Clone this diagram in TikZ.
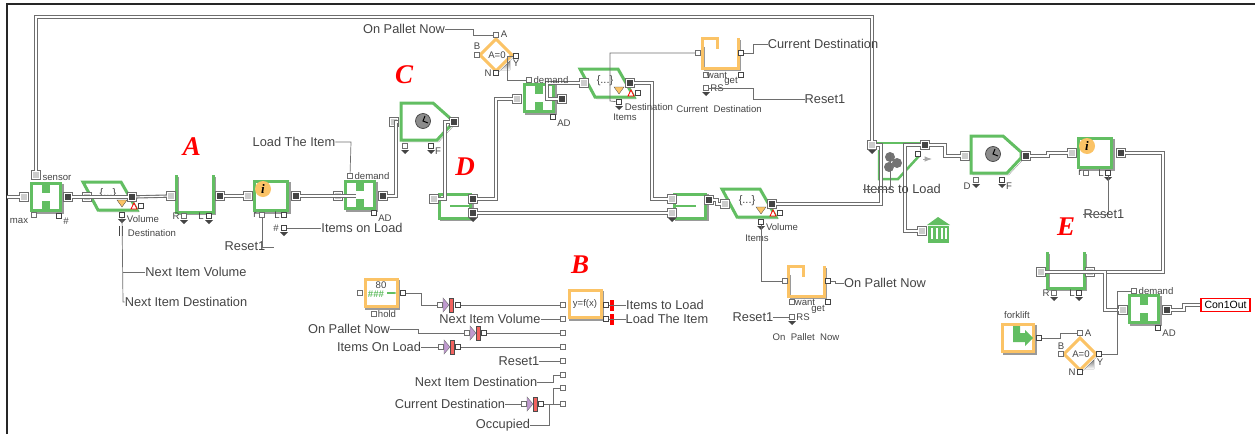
\documentclass[tikz,border=0pt]{standalone}
\usepackage{fontspec}
\setmainfont{Liberation Sans}
\newfontfamily\markfont{Liberation Serif}
\usetikzlibrary{arrows.meta,positioning,calc,shapes.geometric}
\definecolor{grn}{HTML}{62BE62}
\definecolor{org}{HTML}{FBC366}
\definecolor{ink}{HTML}{444444}
\definecolor{wire}{HTML}{6E6E6E}
\definecolor{shade}{HTML}{9A9A9A}
\definecolor{purp}{HTML}{C09AD0}
\definecolor{gatered}{HTML}{F2635F}
\newcommand{\labfont}{\fontsize{12.8}{13}\selectfont}
\newcommand{\tagfont}{\fontsize{9.6}{10}\selectfont}
\begin{document}
\begin{tikzpicture}[x=1pt,y=-1pt,>=Latex,
  grnbox/.style={draw=grn,fill=white,line width=3pt,preaction={draw=shade,transform canvas={shift={(1.8pt,-1.8pt)}}}},
  orgbox/.style={draw=org,fill=white,line width=3pt,preaction={draw=shade,transform canvas={shift={(1.8pt,-1.8pt)}}}},
  grnopen/.style={draw=grn,line width=3pt,preaction={draw=shade,transform canvas={shift={(1.8pt,-1.8pt)}}}},
  orgopen/.style={draw=org,line width=3pt,preaction={draw=shade,transform canvas={shift={(1.8pt,-1.8pt)}}}},
  item/.style={draw=wire,double=white,double distance=1.1pt,line width=1.1pt},
  val/.style={draw=wire,line width=.7pt},
  inport/.style={rectangle,draw=wire,double=white,double distance=.8pt,line width=.7pt,fill=black!20,minimum size=7.5pt,inner sep=0pt},
  outport/.style={rectangle,draw=wire,double=white,double distance=.8pt,line width=.7pt,fill=ink,minimum size=7.5pt,inner sep=0pt},
  vin/.style={rectangle,draw=wire,fill=white,line width=.7pt,minimum size=5.5pt,inner sep=0pt},
  vout/.style={rectangle,draw=ink,fill=white,line width=1.6pt,minimum size=5pt,inner sep=0pt},
  lab/.style={font=\labfont,color=ink,inner sep=0pt},
  tag/.style={font=\tagfont,color=ink,inner sep=0pt},
  letter/.style={font=\fontsize{27}{27}\selectfont\markfont\bfseries\itshape,color=red,inner sep=0pt}]
  % window frame
  \useasboundingbox (0,0) rectangle (1255,434);
  \draw[black!85,line width=1.4pt] (7,434) -- (7,4) -- (1255,4);

  % H blocks
  \foreach \n/\x/\y in {h1/46/197,h2/360/195,h3/539/98,h4/1144/309}{
    \node[grnbox,minimum width=29pt,minimum height=27pt] (\n) at (\x,\y) {};
    \fill[grn] (\x-4,\y-13) rectangle ++(8,9);
    \fill[grn] (\x-4,\y+4) rectangle ++(8,9);
  }
  % selectors
  \foreach \n/\x/\y in {s1/83/182,s2/580/69,s3/722/189}{
    \draw[grnbox] (\x,\y) -- ++(38,0) -- ++(16,28) -- ++(-39,0) -- cycle;
    \node[tag,font=\fontsize{11}{11}\selectfont] at (\x+25,\y+12) {\{...\}};
    \fill[org,draw=ink,line width=.3pt] (\x+34,\y+18) -- ++(10,0) -- ++(-5,7) -- cycle;
    \draw[red,line width=.7pt,fill=white] (\x+48,\y+27) -- ++(6,0) -- ++(-3,-6) -- cycle;
    \node[vout] (\n r) at (\x+58,\y+24) {};
    \node[vout] (\n b) at (\x+39,\y+33) {};
    \fill[ink] (\x+35,\y+37) -- ++(8,0) -- ++(-4,4) -- cycle;
  }
  % clock blocks
  \foreach \n/\x/\y in {c1/401/103,c2/971/136}{
    \draw[grnbox] (\x,\y) -- ++(32,0) -- ++(18,16) -- ++(0,6) -- ++(-14,15) -- ++(-36,0) -- cycle;
    \node[circle,draw=ink,fill=black!45,line width=.7pt,minimum size=15pt,inner sep=0pt] (\n k) at (\x+22,\y+18) {};
    \draw[black,line width=1pt] (\x+24,\y+13) -- (\n k.center) -- (\x+27,\y+20);
  }
  % queues
  \draw[grnopen] (176,175) -- (176,212) -- (213,212) -- (213,175);
  \draw[grnopen] (1047,252) -- (1047,288) -- (1084,288) -- (1084,252);
  \foreach \x/\y in {702/38,788/266}{
    \draw[orgopen] (\x,\y+7) -- (\x,\y+30) -- (\x+36,\y+30) -- (\x+36,\y);
    \draw[org,line width=3pt] (\x,\y+7) -- (\x,\y) -- (\x+15,\y) -- (\x+15,\y+11);
  }
  % info blocks
  \foreach \n/\x/\y in {i1/271/196,i2/1095/153}{
    \node[grnbox,minimum width=33pt,minimum height=29pt] (\n) at (\x,\y) {};
    \node[circle,fill=org,minimum size=16pt,inner sep=0pt,font=\fontsize{13}{13}\selectfont\markfont\bfseries\itshape] (\n c) at (\x-8,\y-7) {i};
  }
  % combine blocks
  \foreach \n/\x in {d1/455,d2/690}{
    \node[grnbox,minimum width=31pt,minimum height=24pt] (\n) at (\x,206) {};
  }
  \draw[grn,line width=2.5pt] (450,206) -- (471,206);
  \draw[grn,line width=2.5pt] (675,206) -- (696,206);
  % decisions
  \foreach \n/\x/\y in {q1/496/55,q2/1080/354}{
    \draw[orgbox] (\x,\y-16) -- (\x+16,\y) -- (\x,\y+16) -- (\x-16,\y) -- cycle;
    \fill[shade] (\x+14,\y+6) -- (\x+5,\y+15) -- (\x+14,\y+15) -- cycle;
    \node[tag] (\n t) at (\x+1,\y) {A=0};
  }
  % exit block and its icons
  \draw[grn,line width=2.5pt] (877,143) -- (922,143);
  \draw[grn,line width=2.5pt] (879,150) -- (879,179) -- (898,179) -- (919,156);
  \foreach \x/\y in {890/157,897/163,889/167}{
    \fill[black!55] (\x,\y) circle (5);
  }
  \draw[-Latex,black!35,line width=1pt] (923,159) -- (932,159);
  \fill[grn] (927,225) -- (938,217) -- (950,225) -- cycle;
  \fill[grn] (928,226) rectangle (949,243);
  \foreach \x in {931,936,941,945}{
    \fill[white] (\x,228) rectangle ++(2,11);
  }
  % delay, function and source blocks
  \node[orgbox,minimum width=32pt,minimum height=27pt] (hd) at (381,293) {};
  \node[tag] (hdn) at (381,285) {80};
  \node[tag,color=grn,font=\tagfont\bfseries] (hdv) at (376,294) {\#\#\#};
  \draw[-{Latex[length=3pt]},grn,line width=1.6pt] (387,293) -- (397,293);
  \node[orgbox,minimum width=32pt,minimum height=27pt] (fx) at (585,304) {};
  \node[tag] (fxt) at (585,304) {y=f(x)};
  \node[orgbox,minimum width=31pt,minimum height=27pt] (fk) at (1018,338) {};
  \fill[grn] (1013,326) -- (1020,326) -- (1020,333) -- (1025,333) -- (1025,330) -- (1033,338) -- (1025,346) -- (1025,342) -- (1013,342) -- cycle;
  \node[tag] (fkt) at (1017,315) {forklift};
  \node[draw=red,fill=white,line width=1.5pt,minimum width=49pt,minimum height=13pt,inner sep=0pt,font=\fontsize{10.5}{11}\selectfont] (con) at (1225.5,305) {Con1Out};

  % item ports
  \foreach \n/\x/\y in {h1i/24/197,sens/36/175,s1i/87/197,qai/171/196,i1i/248/196,h2i/338/196,c1i/394/122,d1i/434/199,h3i/517/99,s2i/584/83,d2a/672/199,d2b/672/213,s3i/725/204,exi/872/145,bki/922/231,c2i/965/156,i2i/1072/153,qei/1041/272,qeo/1090/272,h4i/1123/310}{
    \node[inport] (\n) at (\x,\y) {};
  }
  \foreach \n/\x/\y in {h1o/68/197,s1o/132/197,qao/220/196,i1o/296/196,h2o/383/196,c1o/454/122,d1a/473/199,d1b/473/213,h3o/562/99,s2o/630/83,d2o/709/200,s3o/772/204,exo/925/145,c2o/1026/156,i2o/1121/153,h4o/1167/310}{
    \node[outport] (\n) at (\x,\y) {};
  }
  % value ports
  \foreach \n/\x/\y in {h1m/34/215,qar/184/216,i1r/262/215,h2d/350/176,c1d/405/146,hdi/360/293,hdh/374/314,q1a/496/35,q1b/477/55,h3d/529/80,qtw/706/75,qti/698/53,qts/706/88,qbi/785/281,qbw/792/302,qbs/792/317,c2d/976/180,i2r/1086/173,qer/1054/293,h4d/1134/291,q2a/1080/333,q2b/1061/354,x1/563/305,x2/563/319,x3/563/333,x4/563/347,x5/563/361,x6/563/375,x7/563/388,x8/563/404,g1i/440/305,g2i/467/333,g3i/441/347,g4i/524/404}{
    \node[vin] (\n) at (\x,\y) {};
  }
  \foreach \n/\x/\y in {h1c/59/216,qal/209/216,i1l/284/215,i1n/284/228,h2a/374/213,c1f/431/146,hdo/403/293,q1y/516/56,q1n/496/73,h3a/553/117,qto/741/53,qtg/741/75,qbo/828/281,qbg/828/302,exv/918/154,c2f/1002/180,i2l/1108/173,qel/1079/293,h4a/1158/328,fko/1039/338,q2y/1099/354,q2n/1080/372,fxa/606/305,fxb/606/319,g1o/458/305,g2o/484/333,g3o/458/347,g4o/541/404}{
    \node[vout] (\n) at (\x,\y) {};
  }
  % small down arrows
  \foreach \x/\y in {184/220,209/220,284/232,405/150,431/150,473/218,672/218,706/92,792/321,872/150,976/184,1002/184,1108/177,1054/297,1079/297}{
    \fill[ink] (\x-4,\y) -- (\x+4,\y) -- (\x,\y+4) -- cycle;
  }
  \draw[ink,line width=.9pt] (119,226) -- (119,236) (122,226) -- (122,236);

  % gates
  \foreach \n/\x/\y in {g1/449/305,g2/476/333,g3/450/347,g4/533/404}{
    \fill[purp,draw=wire,line width=.4pt] (\x-6,\y-7) -- (\x,\y) -- (\x-6,\y+7) -- cycle;
    \fill[gatered,draw=black!70,line width=.4pt] (\x,\y-7) rectangle ++(4.5,14);
  }
  \fill[red] (610,300) rectangle ++(4,11);
  \fill[red] (610,314) rectangle ++(4,11);

  % item connectors
  \coordinate (lft) at (7,197);
  \coordinate (h2c) at (356,196);
  \draw[item] (lft) -- (h1i);
  \draw[item] (h1o) -- (s1o);
  \draw[item] (s1o) -- (qai);
  \draw[item] (qao) -- (i1i);
  \draw[item] (i1o) -- (h2c);
  \draw[item] (h2o) -- (396,196) -- (396,122) -- (c1i);
  \draw[item] (c1o) -- (445,122) -- (445,199) -- (d1i);
  \draw[item] (d1a) -- (496,199) -- (496,99) -- (h3i);
  \draw[item] (d1b) -- (d2b);
  \draw[item] (h3o) -- (547,99) -- (547,83) -- (s2i);
  \draw[item] (s2o) -- (652,83) -- (652,199) -- (d2a);
  \draw[item] (d2o) -- (717,200) -- (717,204) -- (s3i);
  \draw[item] (s3o) -- (881,204) -- (881,145) -- (exi);
  \draw[item] (exi) -- (872,17) -- (36,17) -- (sens);
  \draw[item] (exo) -- (905,145) -- (905,231) -- (bki);
  \draw[item] (exo) -- (945,145) -- (945,156) -- (c2i);
  \draw[item] (c2o) -- (1048,156) -- (1048,153) -- (i2i);
  \draw[item] (i2o) -- (1163,153) -- (1163,272) -- (qei);
  \draw[item] (qeo) -- (1105,272) -- (1105,310) -- (h4i);
  \draw[item] (h4o) -- (1184,310) -- (1184,305) -- (con);

  % texts
  \node[letter] (ma) at (192,147) {A};
  \node[letter] (mb) at (580,265) {B};
  \node[letter] (mc) at (404,75) {C};
  \node[letter] (md) at (465,167) {D};
  \node[letter] (me) at (1066,227) {E};
  \foreach \n/\x/\y/\t in {l1/404/29/On Pallet Now,l2/294/142/Load The Item,l3/362/228/Items on Load,l4/245/246/Reset1,l5/196/272/Next Item Volume,l6/186/302/Next Item Destination,l7/823/44/Current Destination,l8/825/99/Reset1,l9/885/283/On Pallet Now,l10/753/317/Reset1,l11/902/189/Items to Load,l12/1104/214/Reset1,l13/490/319/Next Item Volume,l14/349/329/On Pallet Now,l15/379/347/Items On Load,l16/519/361/Reset1,l17/476/382/Next Item Destination,l18/450/404/Current Destination,l19/503/425/Occupied,l20/665/305/Items to Load,l21/667/319/Load The Item}{
    \node[lab] (\n) at (\x,\y) {\t};
  }
  \foreach \n/\x/\y/\t in {t1/57/178/sensor,t2/19/221/max,t3/66/221/\#,t4/143/219/Volume,t5/152/233/Destination,t6/176/216/R,t7/201/216/L,t8/255/215/r,t9/277/215/L,t10/276/228/\#,t11/372/176/demand,t12/385/218/AD,t13/387/314/hold,t14/438/151/F,t15/504/34/A,t16/477/46/B,t17/516/63/Y,t18/488/73/N,t19/551/80/demand,t20/564/123/AD,t21/649/107/Destination,t22/625/117/Items,t23/717/75/want,t24/731/81/get,t25/717/88/RS,t26/782/227/Volume,t27/757/238/Items,t28/805/302/want,t29/818/309/get,t30/803/317/RS,t31/967/186/D,t32/1009/186/F,t33/1080/173/r,t34/1101/173/L,t35/1046/293/R,t36/1072/293/L,t37/1156/291/demand,t38/1169/333/AD,t39/1088/333/A,t40/1061/346/B,t41/1100/362/Y,t42/1072/372/N}{
    \node[tag] (\n) at (\x,\y) {\t};
  }
  \node[tag] (t43) at (719,109) {Current\ \ Destination};
  \node[tag] (t44) at (806,337) {On\ \ Pallet\ \ Now};

  % value connectors
  \coordinate (exc) at (890,153);
  \coordinate (i1e) at (274,247);
  \coordinate (i2e) at (1083,214);
  \draw[val] (s1b) -- (123,302) -- (l6);
  \draw[val] (123,272) -- (l5);
  \draw[val] (l2) -- (351,142) -- (h2d);
  \draw[val] (i1r) -- (262,247) -- (i1e);
  \draw[val] (l3) -- (i1n);
  \draw[val] (l1) -- (473,29) -- (473,35) -- (q1a);
  \draw[val] (q1y) -- (507,56) -- (507,80) -- (h3d);
  \draw[val] (s2b) -- (610,101) -- (610,53) -- (qti);
  \draw[val] (qto) -- (753,53) -- (753,44) -- (l7);
  \draw[val] (qts) -- (753,88) -- (753,99) -- (l8);
  \draw[val] (s3b) -- (761,281) -- (qbi);
  \draw[val] (qbo) -- (835,281) -- (835,283) -- (l9);
  \draw[val] (l10) -- (qbs);
  \draw[val] (l11.west) -- (890,189) -- (exc);
  \draw[val] (i2l) -- (1108,214) -- (i2e);
  \draw[val] (fko) -- (1060,338) -- (1060,333) -- (q2a);
  \draw[val] (q2y) -- (1117,354) -- (1117,291) -- (h4d);
  \draw[val] (hdo) -- (421,293) -- (421,305) -- (g1i);
  \draw[val] (g1o) -- (x1);
  \draw[val] (l13) -- (x2);
  \draw[val] (l14) -- (418,329) -- (418,333) -- (g2i);
  \draw[val] (g2o) -- (x3);
  \draw[val] (l15) -- (g3i);
  \draw[val] (g3o) -- (x4);
  \draw[val] (l16) -- (x5);
  \draw[val] (l17) -- (553,382) -- (553,375) -- (x6);
  \draw[val] (l18) -- (g4i);
  \draw[val] (g4o) -- (x8);
  \draw[val] (553,404) -- (553,388) -- (x7);
  \draw[val] (l19) -- (549,425) -- (549,404);
  \draw[val] (fxa) -- (l20);
  \draw[val] (fxb) -- (l21);
\end{tikzpicture}
\end{document}
